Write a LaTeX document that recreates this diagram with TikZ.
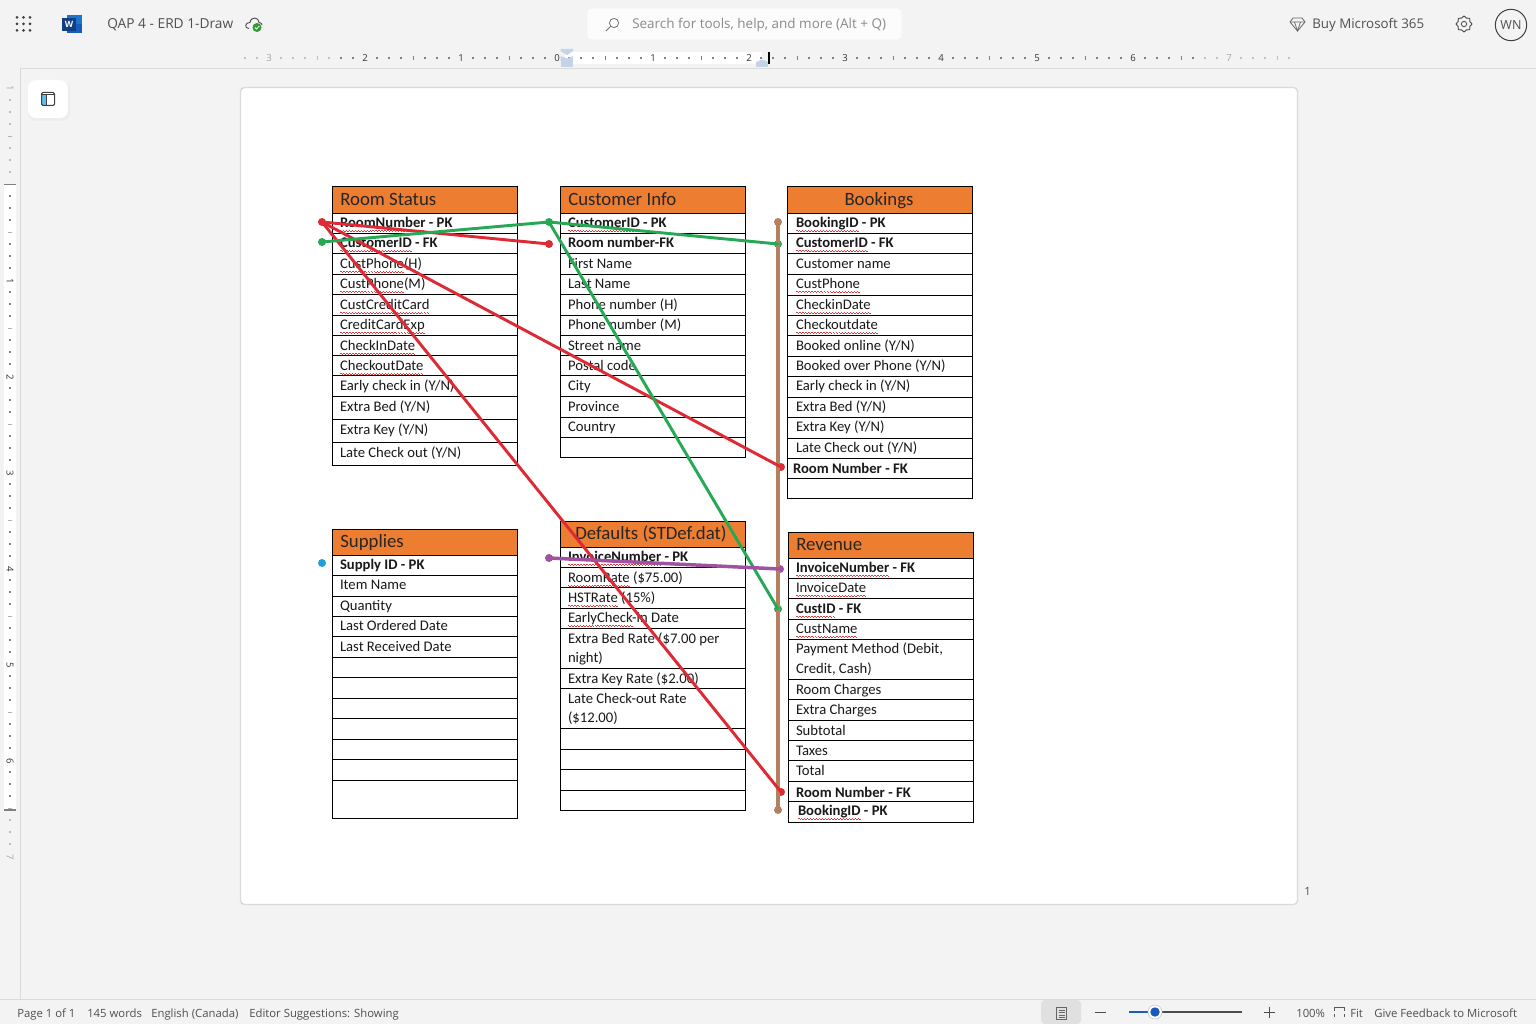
\documentclass[tikz,border=0pt]{standalone}
\usepackage{fontspec}
\setmainfont{Carlito}
\newfontfamily\uifont{Open Sans}
\usetikzlibrary{shapes.geometric,calc}
\definecolor{uibg}{HTML}{F3F3F3}
\definecolor{uiline}{HTML}{DADADA}
\definecolor{uitext}{HTML}{505050}
\definecolor{uigrey}{HTML}{8A8A8A}
\definecolor{hdr}{HTML}{ED7D31}
\definecolor{cred}{HTML}{DE2A35}
\definecolor{cgreen}{HTML}{27A854}
\definecolor{cpurple}{HTML}{A0519F}
\definecolor{cbrown}{HTML}{B5805F}
\definecolor{cblue}{HTML}{1FA0DC}
\definecolor{wblue}{HTML}{185ABD}
\definecolor{squig}{HTML}{E03A3A}
\definecolor{marker}{HTML}{C3D3E8}
\newcommand{\waveunit}{\hbox{\rule[0pt]{1.1pt}{.45pt}\rule[-.55pt]{1.1pt}{.45pt}}}
\newcommand{\sq}[1]{\setbox0=\hbox{#1}\rlap{\lower 2.2pt\hbox to \wd0{\color{squig}\xleaders\waveunit\hfil}}#1}
\tikzset{
  cell/.style={anchor=base west,inner sep=0pt,outer sep=0pt,xshift=.4pt,font=\fontsize{11pt}{14.6pt}\selectfont,text=black!90},
  wrapcell/.style={cell,align=left},
  head/.style={anchor=base west,inner sep=0pt,xshift=.4pt,font=\fontsize{14.1pt}{16pt}\selectfont,text=black!85},
  grid/.style={line width=.75pt,black},
  link/.style={line width=2.2pt,line cap=round,line join=round},
  ui/.style={inner sep=0pt,font=\uifont\fontsize{10pt}{12pt}\selectfont,text=uitext},
  uis/.style={ui,anchor=base west,font=\uifont\fontsize{8.5pt}{10pt}\selectfont},
  rl/.style={inner sep=0pt,font=\uifont\fontsize{7.2pt}{8pt}\selectfont,text=black!75},
  dotn/.style={circle,inner sep=0pt,minimum size=6pt}
}
\begin{document}
\begin{tikzpicture}[x=.75pt,y=-.75pt]
\useasboundingbox (0,0) rectangle (1536,1024);
\fill[uibg] (0,0) rectangle (1536,1024);
% chrome frames
\draw[uiline,line width=.75pt] (20,68.5) -- (1536,68.5);
\draw[uiline,line width=.75pt] (20.5,68) -- (20.5,999);
\draw[uiline,line width=.75pt] (0,999.5) -- (1536,999.5);
% horizontal ruler
\fill[white] (565,52) rectangle (762,64);
\foreach \i in {0,...,87} {
  \pgfmathsetmacro\xx{245+12*\i}
  \pgfmathtruncatemacro\mm{mod(\i+6,8)}
  \pgfmathtruncatemacro\shd{(\xx<340||\xx>1200)?25:50}
  \ifnum\mm=0\relax\else\ifnum\mm=4
    \draw[black!\shd,line width=.6pt] (\xx,56) -- (\xx,60);
  \else
    \fill[black!\shd] (\xx-.7,57.3) rectangle (\xx+.7,58.7);
  \fi\fi
}
\foreach \xx/\t/\c [count=\i] in {269/3/black!35,365/2/black!80,461/1/black!80,557/0/black!80,653/1/black!80,749/2/black!80,845/3/black!80,941/4/black!80,1037/5/black!80,1133/6/black!80,1229/7/black!35}
  \node[rl,text=\c] (hr\i) at (\xx,58) {\t};
\fill[marker] (560.5,61) rectangle (573,67);
\fill[marker] (560.5,49) -- (573,49) -- (573,51) -- (567,55) -- (560.5,51) -- cycle;
\fill[marker] (560.5,56) -- (567,58.5) -- (573,56) -- (573,61) -- (560.5,61) -- cycle;
\fill[marker] (756,67) -- (756,62) -- (762,59.5) -- (768,62) -- (768,67) -- cycle;
\draw[black,line width=1pt] (769,52) -- (769,64);
% vertical ruler
\fill[white] (4,184) rectangle (16,810);
\foreach \i in {-8,...,56} {
  \pgfmathsetmacro\yy{184+12*\i}
  \pgfmathtruncatemacro\mm{mod(\i+80,8)}
  \pgfmathtruncatemacro\shd{(\i<0||\i>52)?25:50}
  \ifnum\mm=0\relax\else\ifnum\mm=4
    \draw[black!30,line width=.6pt] (8,\yy) -- (12,\yy);
  \else
    \fill[black!\shd] (9.3,\yy-.7) rectangle (10.7,\yy+.7);
  \fi\fi
}
\foreach \yy/\t/\c [count=\i] in {88/1/black!35,281/1/black!80,377/2/black!80,473/3/black!80,569/4/black!80,665/5/black!80,761/6/black!80,857/7/black!35}
  \node[rl,text=\c,rotate=-90] (vr\i) at (10,\yy) {\t};
\draw[black!50,line width=1.2pt] (4,184.5) -- (16,184.5);
\draw[black!50,line width=1.2pt] (4,810) -- (16,810);
% page
\draw[uiline,fill=white,line width=1pt,rounded corners=3pt] (240.5,87.5) rectangle (1297.5,904.5);
\node[uis,anchor=center,font=\uifont\fontsize{8.5pt}{10pt}\selectfont] (pgnum) at (1307.5,891.5) {1};
% panel button
\fill[black!7,rounded corners=6pt] (28,81) rectangle (70,121);
\fill[white,rounded corners=6pt] (28,80) rectangle (68,118);
\fill[cblue!70] (42,95) rectangle (46,105);
\draw[black!75,line width=.75pt,rounded corners=1pt] (41.5,92.5) rectangle (54.5,105.5);
\draw[black!75,line width=.75pt] (41.5,95) -- (54.5,95);
\draw[black!75,line width=.75pt] (46,95) -- (46,105.5);
% top bar
\foreach \a in {17,23.5,30}\foreach \b in {17.5,24,30.5}\fill[black!75] (\a,\b) circle (1.5);
\fill[wblue!60!cblue] (67,15) rectangle (82,33);
\fill[wblue] (67,24) rectangle (82,33);
\fill[wblue!70!black] (62,18) rectangle (76,31);
\node[inner sep=0pt,text=white,font=\uifont\bfseries\fontsize{6.5pt}{7pt}\selectfont] (wicon) at (69,24.5) {W};
\node[ui,anchor=base west,font=\uifont\fontsize{10.3pt}{12pt}\selectfont] (title) at (107,29) {QAP 4 - ERD 1-Draw};
\draw[black!70,line width=.7pt,line join=round] (249,28.5) .. controls (244,28.5) and (245,22) .. (250,22.5) .. controls (251,16) and (259,17) .. (259,22.5) .. controls (261,22.5) and (262,24) .. (262,25);
\fill[green!50!black!80] (257,27.5) circle (4.5);
\draw[white,line width=.6pt] (255,27.5) -- (256.5,29) -- (259.3,26);
\fill[white!98!gray,rounded corners=4pt,draw=black!5,line width=.4pt] (587,8) rectangle (902,40);
\draw[black!55,line width=.6pt] (614,23) circle (4.6);
\draw[black!55,line width=.7pt] (610.6,26.4) -- (606,31);
\node[ui,anchor=base west,text=uigrey,font=\uifont\fontsize{10.1pt}{12pt}\selectfont] (search) at (632,29) {Search for tools, help, and more (Alt + Q)};
\draw[black!60,line width=.6pt,line join=round] (1293,18) -- (1302,18) -- (1305,22) -- (1297.5,31) -- (1290,22) -- cycle;
\draw[black!60,line width=.5pt] (1290,22) -- (1305,22) (1294.5,22) -- (1297.5,31) -- (1300.5,22);
\node[ui,anchor=base west] (buy) at (1312,29) {Buy Microsoft 365};
\node[draw=black!70,line width=.6pt,circle,minimum size=4pt,inner sep=0pt] (gearin) at (1464,24) {};
\node[draw=black!70,line width=.7pt,star,star points=8,star point ratio=1.25,minimum size=12pt,inner sep=0pt] (gear) at (1464,24) {};
\node[draw=black!75,line width=.75pt,circle,minimum size=23.5pt,inner sep=0pt,font=\uifont\fontsize{9.4pt}{11pt}\selectfont,text=uitext] (avatar) at (1511,25) {WN};
% status bar
\node[uis] (s1) at (17,1017) {Page 1 of 1};
\node[uis] (s2) at (87,1017) {145 words};
\node[uis] (s3) at (151,1017) {English (Canada)};
\node[uis] (s4) at (249,1017) {Editor Suggestions: Showing};
\fill[black!12,rounded corners=3pt] (1041,1000) rectangle (1081,1024);
\draw[black!60,line width=.6pt] (1056.5,1007) rectangle (1066.5,1019);
\foreach \yy in {1010,1012.5,1015,1017}\draw[black!60,line width=.5pt] (1058.5,\yy) -- (1064.5,\yy);
\draw[black!70,line width=.75pt] (1095,1012) -- (1106,1012);
\draw[black!70,line width=1pt] (1155,1012) -- (1242,1012);
\draw[wblue,line width=1.2pt] (1129,1012) -- (1155,1012);
\fill[white,draw=black!20,line width=.5pt] (1155,1012) circle (7);
\fill[wblue] (1155,1012) circle (4.7);
\draw[black!70,line width=.75pt] (1264,1012.5) -- (1275,1012.5) (1269.5,1007) -- (1269.5,1018);
\node[uis] (zoomv) at (1296,1017) {100\%};
\draw[black!65,line width=.7pt] (1334,1011) -- (1334,1007.5) -- (1344,1007.5) -- (1344,1011) (1334,1014) -- (1334,1017) (1344,1014) -- (1344,1017);
\node[uis] (fit) at (1350,1017) {Fit};
\node[uis] (fb) at (1374,1017) {Give Feedback to Microsoft};
% ---------- tables ----------
\begin{scope}[xshift=-.4pt]
% Room Status
\fill[hdr] (333,186) rectangle (518,213);
\foreach \yy in {213,233,253,274,294,315,335,355,375,396,419,442}\draw[grid] (333,\yy) -- (518,\yy);
\draw[grid] (333,186) rectangle (518,465);
\node[head] (rsh) at (340,205) {Room Status};
\foreach \yy/\t [count=\i] in {223/{\bfseries\sq{RoomNumber} - PK},243/{\bfseries\sq{CustomerID} - FK},264/{\sq{CustPhone}(H)},284/{\sq{CustPhone}(M)},305/{\sq{CustCreditCard}},325/{\sq{CreditCardExp}},346/{\sq{CheckInDate}},366/{\sq{CheckoutDate}},386/{Early check in (Y/N)},407/{Extra Bed (Y/N)},430/{Extra Key (Y/N)},453/{Late Check out (Y/N)}}
  \node[cell] (rs\i) at (340,\yy+4.5) {\t};
% Customer Info
\fill[hdr] (561,186) rectangle (746,213);
\foreach \yy in {213,233,253,274,294,315,335,355,375,396,417,437}\draw[grid] (561,\yy) -- (746,\yy);
\draw[grid] (561,186) rectangle (746,457);
\node[head] (cih) at (568,205) {Customer Info};
\foreach \yy/\t [count=\i] in {223/{\bfseries\sq{CustomerID} - PK},243/{\bfseries Room number-FK},264/{First Name},284/{Last Name},305/{Phone number (H)},325/{Phone number (M)},346/{Street name},366/{Postal code},386/{City},407/{Province},427/{Country}}
  \node[cell] (ci\i) at (568,\yy+4.5) {\t};
% Bookings
\fill[hdr] (788,186) rectangle (973,213);
\foreach \yy in {213,233,253,274,295,315,335,356,376,397,417,438,458,478}\draw[grid] (788,\yy) -- (973,\yy);
\draw[grid] (788,186) rectangle (973,498);
\node[head,anchor=base] (bkh) at (879,205) {Bookings};
\foreach \yy/\t [count=\i] in {223/{\bfseries\sq{BookingID} - PK},243/{\bfseries\sq{CustomerID} - FK},264/{Customer name},284/{\sq{CustPhone}},305/{\sq{CheckinDate}},325/{\sq{Checkoutdate}},346/{Booked online (Y/N)},366/{Booked over Phone (Y/N)},386/{Early check in (Y/N)},407/{Extra Bed (Y/N)},427/{Extra Key (Y/N)},448/{Late Check out (Y/N)}}
  \node[cell] (bk\i) at (796,\yy+4.5) {\t};
\node[cell] (bk13) at (793,473.5) {\bfseries Room Number - FK};
% Supplies
\fill[hdr] (333,529) rectangle (518,555);
\foreach \yy in {555,575,596,616,636,657,677,698,718,739,759,780}\draw[grid] (333,\yy) -- (518,\yy);
\draw[grid] (333,529) rectangle (518,818);
\node[head] (suh) at (340,547) {Supplies};
\foreach \yy/\t [count=\i] in {565/{\bfseries Supply ID - PK},585/{Item Name},606/{Quantity},626/{Last Ordered Date},647/{Last Received Date}}
  \node[cell] (su\i) at (340,\yy+4.5) {\t};
% Defaults
\fill[hdr] (561,521) rectangle (746,547);
\foreach \yy in {547,567,587,608,628,668,688,728,749,769,790}\draw[grid] (561,\yy) -- (746,\yy);
\draw[grid] (561,521) rectangle (746,810);
\node[head,anchor=base] (dfh) at (651,539) {Defaults (STDef.dat)};
\foreach \yy/\t [count=\i] in {557/{\bfseries\sq{InvoiceNumber} - PK},578/{\sq{RoomRate} (\$75.00)},598/{\sq{HSTRate} (15\%)},618/{\sq{EarlyCheck}-in Date},679/{Extra Key Rate (\$2.00)}}
  \node[cell] (df\i) at (568,\yy+4.5) {\t};
\node[wrapcell] (df6) at (568,662.5) {Extra Bed Rate (\$7.00 per\\night)};
\node[wrapcell] (df7) at (568,722.5) {Late Check-out Rate\\(\$12.00)};
% Revenue
\fill[hdr] (789,532) rectangle (974,558);
\foreach \yy in {558,578,598,619,639,679,699,720,740,760,781,801}\draw[grid] (789,\yy) -- (974,\yy);
\draw[grid] (789,532) rectangle (974,822);
\node[head] (rvh) at (796,550) {Revenue};
\foreach \yy/\t [count=\i] in {568/{\bfseries\sq{InvoiceNumber} - FK},588/{\sq{InvoiceDate}},609/{\bfseries\sq{CustID} - FK},629/{\sq{CustName}},690/{Room Charges},710/{Extra Charges},731/{Subtotal},751/{Taxes},771/{Total},793/{\bfseries Room Number - FK}}
  \node[cell] (rv\i) at (796,\yy+4.5) {\t};
\node[wrapcell] (rv11) at (796,673) {Payment Method (Debit,\\Credit, Cash)};
\node[cell] (rv12) at (798,815.5) {\bfseries\sq{BookingID} - PK};
\end{scope}
% ---------- connector dots ----------
\node[dotn,fill=cred] (rA) at (322,222) {};
\node[dotn,fill=cgreen] (gA) at (322,242) {};
\node[dotn,fill=cgreen] (gB) at (549,222) {};
\node[dotn,fill=cred] (rB) at (549,244) {};
\node[dotn,fill=cbrown] (bA) at (778,222) {};
\node[dotn,fill=cbrown] (bB) at (778,810) {};
\node[dotn,fill=cgreen] (gC) at (778,244) {};
\node[dotn,fill=cgreen] (gD) at (778,609) {};
\node[dotn,fill=cred] (rC) at (781,467) {};
\node[dotn,fill=cred] (rD) at (781,792) {};
\node[dotn,fill=cpurple] (pA) at (549,558) {};
\node[dotn,fill=cpurple] (pB) at (780,569) {};
\node[dotn,fill=cblue] (blue) at (322,563) {};
% ---------- connectors ----------
\draw[link,cbrown,line width=2.8pt] (bA.center) -- (bB.center);
\draw[link,cred] (rA.center) -- (rB.center);
\draw[link,cred] (rA.center) -- (rC.center);
\draw[link,cred] (rA.center) -- (rD.center);
\draw[link,cgreen] (gA.center) -- (gB.center);
\draw[link,cgreen] (gB.center) -- (gC.center);
\draw[link,cgreen] (gB.center) -- (gD.center);
\draw[link,cpurple,line width=2.6pt] (pA.center) -- (pB.center);
\end{tikzpicture}
\end{document}
